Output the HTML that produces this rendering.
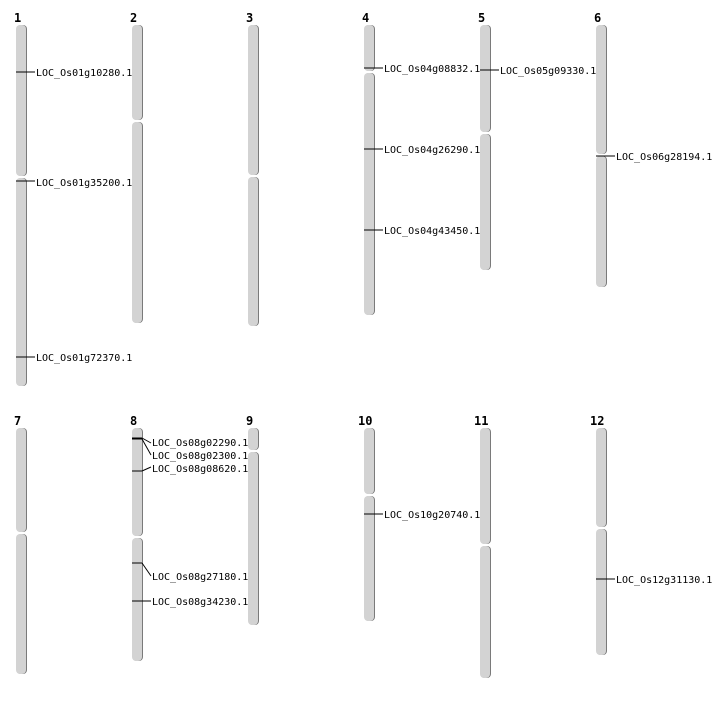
<!DOCTYPE html>
<html><head><meta charset="utf-8"><style>
body{margin:0;background:#fff}
text{font-family:"DejaVu Sans Mono","Liberation Mono",monospace;font-size:10px;fill:#000}
.n{font-family:"DejaVu Sans Mono","Liberation Mono",monospace;font-weight:bold;font-size:12px}
.s{fill:#7a7a7a}.f{fill:#d3d3d3}
line,polyline{stroke:#000;stroke-width:1;fill:none}
</style></head><body>
<svg width="712" height="700" xmlns="http://www.w3.org/2000/svg">
<text class="n" x="14" y="22">1</text><text class="n" x="130" y="22">2</text><text class="n" x="246" y="22">3</text><text class="n" x="362" y="22">4</text><text class="n" x="478" y="22">5</text><text class="n" x="594" y="22">6</text>
<text class="n" x="14" y="425">7</text><text class="n" x="130" y="425">8</text><text class="n" x="246" y="425">9</text><text class="n" x="358" y="425">10</text><text class="n" x="474" y="425">11</text><text class="n" x="590" y="425">12</text>

<rect class="s" x="17" y="25" width="10" height="151" rx="4"/><rect class="f" x="16" y="25" width="10" height="151" rx="4"/>
<rect class="s" x="17" y="178" width="10" height="208" rx="4"/><rect class="f" x="16" y="178" width="10" height="208" rx="4"/>
<rect class="s" x="133" y="25" width="10" height="95" rx="4"/><rect class="f" x="132" y="25" width="10" height="95" rx="4"/>
<rect class="s" x="133" y="122" width="10" height="201" rx="4"/><rect class="f" x="132" y="122" width="10" height="201" rx="4"/>
<rect class="s" x="249" y="25" width="10" height="150" rx="4"/><rect class="f" x="248" y="25" width="10" height="150" rx="4"/>
<rect class="s" x="249" y="177" width="10" height="149" rx="4"/><rect class="f" x="248" y="177" width="10" height="149" rx="4"/>
<rect class="s" x="365" y="25" width="10" height="46" rx="4"/><rect class="f" x="364" y="25" width="10" height="46" rx="4"/>
<rect class="s" x="365" y="73" width="10" height="242" rx="4"/><rect class="f" x="364" y="73" width="10" height="242" rx="4"/>
<rect class="s" x="481" y="25" width="10" height="107" rx="4"/><rect class="f" x="480" y="25" width="10" height="107" rx="4"/>
<rect class="s" x="481" y="134" width="10" height="136" rx="4"/><rect class="f" x="480" y="134" width="10" height="136" rx="4"/>
<rect class="s" x="597" y="25" width="10" height="129" rx="4"/><rect class="f" x="596" y="25" width="10" height="129" rx="4"/>
<rect class="s" x="597" y="156" width="10" height="131" rx="4"/><rect class="f" x="596" y="156" width="10" height="131" rx="4"/>
<rect class="s" x="17" y="428" width="10" height="104" rx="4"/><rect class="f" x="16" y="428" width="10" height="104" rx="4"/>
<rect class="s" x="17" y="534" width="10" height="140" rx="4"/><rect class="f" x="16" y="534" width="10" height="140" rx="4"/>
<rect class="s" x="133" y="428" width="10" height="108" rx="4"/><rect class="f" x="132" y="428" width="10" height="108" rx="4"/>
<rect class="s" x="133" y="538" width="10" height="123" rx="4"/><rect class="f" x="132" y="538" width="10" height="123" rx="4"/>
<rect class="s" x="249" y="428" width="10" height="22" rx="4"/><rect class="f" x="248" y="428" width="10" height="22" rx="4"/>
<rect class="s" x="249" y="452" width="10" height="173" rx="4"/><rect class="f" x="248" y="452" width="10" height="173" rx="4"/>
<rect class="s" x="365" y="428" width="10" height="66" rx="4"/><rect class="f" x="364" y="428" width="10" height="66" rx="4"/>
<rect class="s" x="365" y="496" width="10" height="125" rx="4"/><rect class="f" x="364" y="496" width="10" height="125" rx="4"/>
<rect class="s" x="481" y="428" width="10" height="116" rx="4"/><rect class="f" x="480" y="428" width="10" height="116" rx="4"/>
<rect class="s" x="481" y="546" width="10" height="132" rx="4"/><rect class="f" x="480" y="546" width="10" height="132" rx="4"/>
<rect class="s" x="597" y="428" width="10" height="99" rx="4"/><rect class="f" x="596" y="428" width="10" height="99" rx="4"/>
<rect class="s" x="597" y="529" width="10" height="126" rx="4"/><rect class="f" x="596" y="529" width="10" height="126" rx="4"/>

<line x1="16" y1="72" x2="35" y2="72"/><text x="36" y="76">LOC_Os01g10280.1</text>
<line x1="16" y1="181" x2="35" y2="181"/><text x="36" y="186">LOC_Os01g35200.1</text>
<line x1="16" y1="357" x2="35" y2="357"/><text x="36" y="361">LOC_Os01g72370.1</text>
<line x1="364" y1="68" x2="383" y2="68"/><text x="384" y="72">LOC_Os04g08832.1</text>
<line x1="364" y1="149" x2="383" y2="149"/><text x="384" y="153">LOC_Os04g26290.1</text>
<line x1="364" y1="230" x2="383" y2="230"/><text x="384" y="234">LOC_Os04g43450.1</text>
<line x1="480" y1="70" x2="499" y2="70"/><text x="500" y="74">LOC_Os05g09330.1</text>
<line x1="596" y1="156" x2="615" y2="156"/><text x="616" y="160">LOC_Os06g28194.1</text>

<line x1="132" y1="438" x2="142" y2="438"/><polyline points="142,438 151,443"/>
<line x1="132" y1="439" x2="142" y2="439"/><polyline points="142,439 151,455"/>
<line x1="132" y1="471" x2="142" y2="471"/><polyline points="142,471 151,467"/>
<line x1="132" y1="563" x2="142" y2="563"/><polyline points="142,563 151,576"/>
<line x1="132" y1="601" x2="151" y2="601"/>
<text x="152" y="446">LOC_Os08g02290.1</text>
<text x="152" y="459">LOC_Os08g02300.1</text>
<text x="152" y="472">LOC_Os08g08620.1</text>
<text x="152" y="580">LOC_Os08g27180.1</text>
<text x="152" y="605">LOC_Os08g34230.1</text>

<line x1="364" y1="514" x2="383" y2="514"/><text x="384" y="518">LOC_Os10g20740.1</text>
<line x1="596" y1="579" x2="615" y2="579"/><text x="616" y="583">LOC_Os12g31130.1</text>
</svg>
</body></html>
